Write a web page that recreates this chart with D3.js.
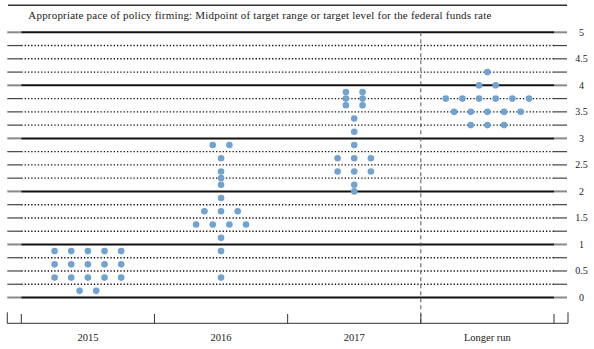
<!DOCTYPE html>
<html><head><meta charset="utf-8">
<script src="https://cdn.jsdelivr.net/npm/d3@7"></script>
<style>body{margin:0;background:#fff}svg{display:block}</style>
</head><body>
<script>
const title = "Appropriate pace of policy firming: Midpoint of target range or target level for the federal funds rate";
const categories = ["2015", "2016", "2017", "Longer run"];
const dots2015 = [0.875,0.875,0.875,0.875,0.875,0.625,0.625,0.625,0.625,0.625,0.375,0.375,0.375,0.375,0.375,0.125,0.125];
const dots2016 = [2.875,2.875,2.625,2.375,2.25,2.125,1.875,1.625,1.625,1.625,1.375,1.375,1.375,1.375,1.125,0.875,0.375];
const dots2017 = [3.875,3.875,3.75,3.75,3.625,3.625,3.375,3.125,2.875,2.625,2.625,2.625,2.375,2.375,2.375,2.125,2.0];
const dotsLonger = [4.25,4,4,3.75,3.75,3.75,3.75,3.75,3.75,3.5,3.5,3.5,3.5,3.5,3.25,3.25,3.25];
const seriesDots = [dots2015, dots2016, dots2017, dotsLonger];
const gridValues = d3.range(0, 5.001, 0.25);
const tickLabels = ["0","0.5","1","1.5","2","2.5","3","3.5","4","4.5","5"];

const W = 594, H = 349;
const svg = d3.select("body").append("svg").attr("width", W).attr("height", H);
const x = d3.scaleBand().domain(categories).range([21.3, 554]).padding(0);
const y = d3.scaleLinear().domain([0, 5]).range([297.5, 32.3]);
const serif = "'Liberation Serif','DejaVu Serif',serif";

// top rule
svg.append("line").attr("x1", 8).attr("x2", 567).attr("y1", 5.3).attr("y2", 5.3)
  .attr("stroke", "#333").attr("stroke-width", 1.5);
svg.append("text").attr("x", 28.3).attr("y", 19).attr("font-family", serif)
  .attr("font-size", 11).attr("fill", "#222")
  .attr("textLength", 463).attr("lengthAdjust", "spacing").text(title);

// gridlines
const g = svg.append("g");
gridValues.forEach(v => {
  const isInt = Math.abs(v - Math.round(v)) < 1e-9;
  const yy = y(v);
  g.append("line").attr("x1", 7.3).attr("x2", x.range()[0]).attr("y1", yy).attr("y2", yy)
    .attr("stroke", isInt ? "#888" : "#444").attr("stroke-width", isInt ? 2 : 1.2);
  g.append("line").attr("x1", x.range()[1]).attr("x2", 567).attr("y1", yy).attr("y2", yy)
    .attr("stroke", isInt ? "#888" : "#444").attr("stroke-width", isInt ? 2 : 1.2);
  const l = g.append("line").attr("x1", x.range()[0]).attr("x2", x.range()[1]).attr("y1", yy).attr("y2", yy)
    .attr("stroke", "#111");
  if (isInt) l.attr("stroke-width", 2);
  else l.attr("stroke-width", 1.4).attr("stroke-dasharray", "1.3,2");
});

// right labels
tickLabels.forEach(t => {
  svg.append("text").attr("x", 581.5).attr("y", y(+t)).attr("dy", "0.35em")
    .attr("text-anchor", "middle").attr("font-family", serif).attr("font-size", 10)
    .attr("fill", "#222").text(t);
});

// dashed vertical divider before Longer run
svg.append("line").attr("x1", x("Longer run")).attr("x2", x("Longer run"))
  .attr("y1", y(5)).attr("y2", 323.3).attr("stroke", "#555").attr("stroke-width", 1)
  .attr("stroke-dasharray", "4,3");

// dots
const dx = 16.65;
seriesDots.forEach((vals, ci) => {
  const cx = x(categories[ci]) + x.bandwidth() / 2;
  const groups = d3.rollups(vals, v => v.length, d => d);
  groups.forEach(([v, n]) => {
    for (let i = 0; i < n; i++) {
      svg.append("circle").attr("cx", cx + (i - (n - 1) / 2) * dx).attr("cy", y(v))
        .attr("r", 3.3).attr("fill", "#72a2d0");
    }
  });
});

// bottom axis
const base = 323.3;
const ax = svg.append("g");
ax.append("line").attr("x1", 7.3).attr("x2", 568).attr("y1", base).attr("y2", base)
  .attr("stroke", "#333").attr("stroke-width", 1);
[7.3, 568].forEach(xx => ax.append("line").attr("x1", xx).attr("x2", xx)
  .attr("y1", 312.3).attr("y2", base).attr("stroke", "#333").attr("stroke-width", 1));
categories.forEach(c => ax.append("line").attr("x1", x(c)).attr("x2", x(c))
  .attr("y1", 314).attr("y2", base).attr("stroke", "#333").attr("stroke-width", 1));
ax.append("line").attr("x1", x.range()[1]).attr("x2", x.range()[1])
  .attr("y1", 314).attr("y2", base).attr("stroke", "#333").attr("stroke-width", 1);
categories.forEach(c => ax.append("text").attr("x", x(c) + x.bandwidth() / 2).attr("y", 341)
  .attr("text-anchor", "middle").attr("font-family", serif).attr("font-size", 10.5)
  .attr("fill", "#222").text(c));
</script>
</body></html>
